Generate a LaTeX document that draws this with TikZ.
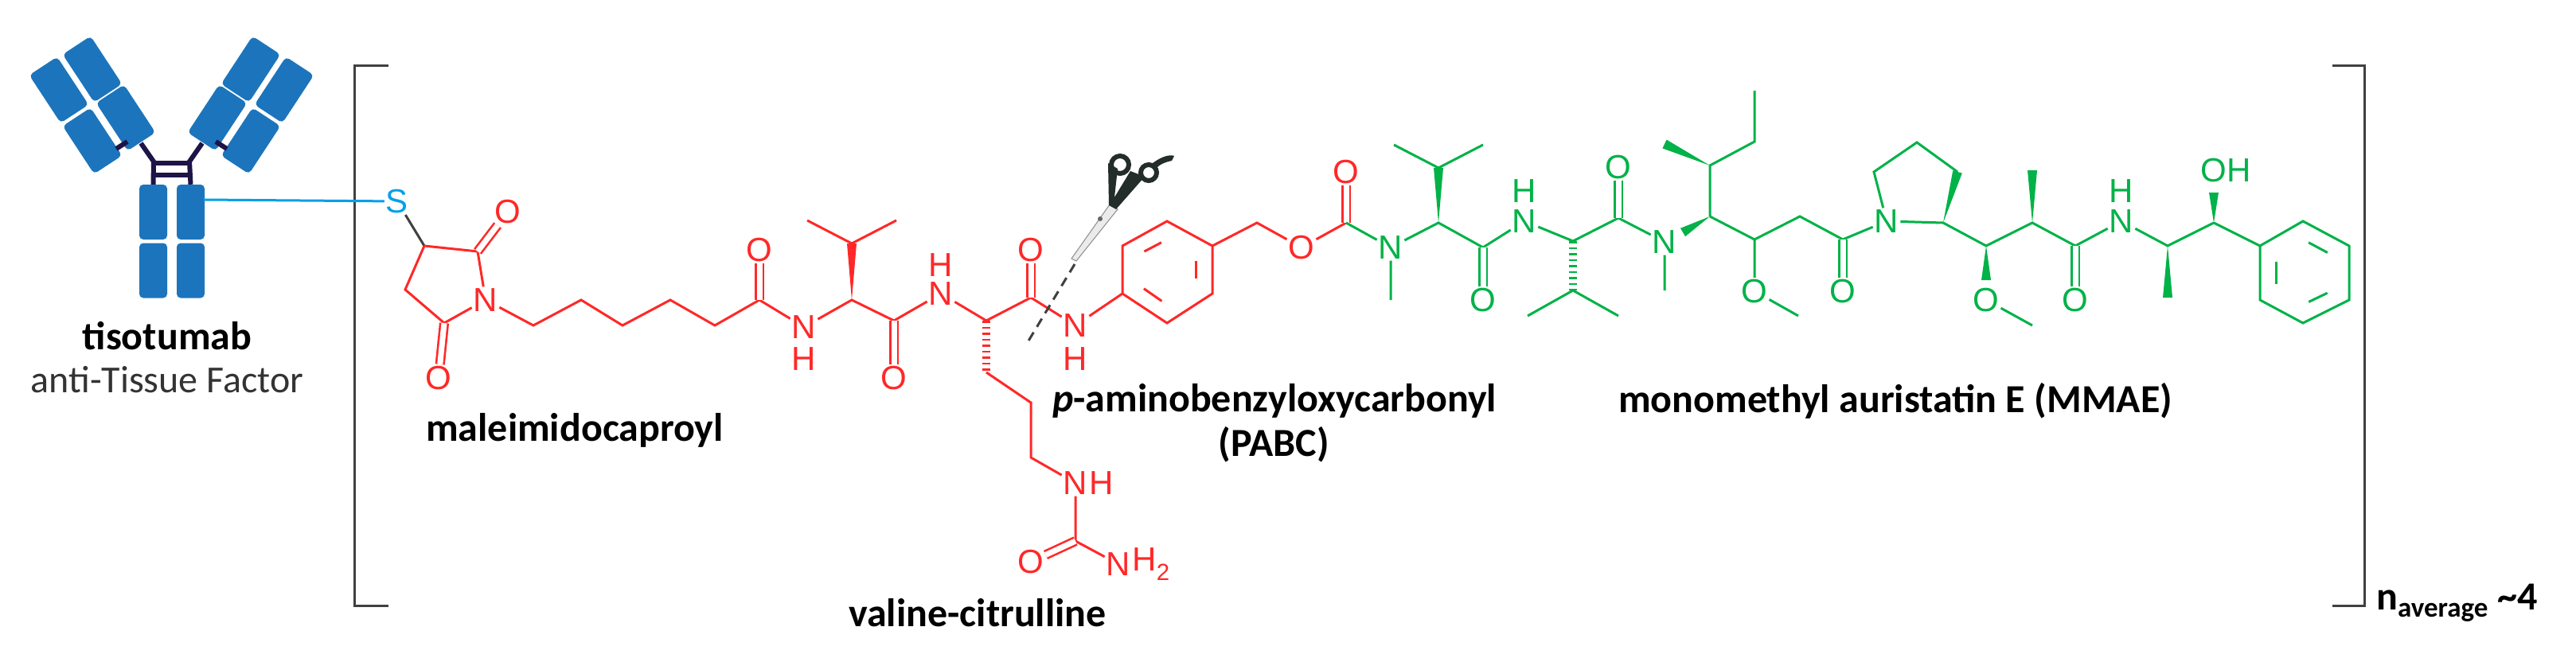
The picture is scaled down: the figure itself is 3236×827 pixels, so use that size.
\documentclass[tikz,border=0pt]{standalone}
\usepackage{fontspec}
\usetikzlibrary{calc}
\newfontfamily\chemf{Liberation Sans}
\newfontfamily\labf{Carlito}
\definecolor{cred}{RGB}{255,40,40}
\definecolor{cgreen}{RGB}{0,178,72}
\definecolor{abblue}{RGB}{28,117,188}
\definecolor{lblue}{RGB}{0,160,233}
\definecolor{navy}{RGB}{30,20,70}
\definecolor{scdark}{RGB}{35,45,42}
\newcommand\wdg[3]{\fill[#3] (#1) -- ($(#2)!6pt!90:(#1)$) -- ($(#2)!6pt!-90:(#1)$) -- cycle;}
\tikzset{
 bond/.style={line width=3pt},
 rb/.style={bond, draw=cred}, gb/.style={bond, draw=cgreen},
 dbl/.style={double distance=7pt, line width=2.6pt},
 hsh/.style={line width=10pt, dash pattern=on 2.5pt off 5pt},
 atomf/.style={font=\chemf\fontsize{42}{48}\selectfont, inner sep=2pt},
 ra/.style={atomf, text=cred}, ga/.style={atomf, text=cgreen},
 blk/.style={fill=abblue, rounded corners=5pt, minimum width=72pt, minimum height=42pt, inner sep=0pt},
 sblk/.style={fill=abblue, rounded corners=5pt, minimum width=35pt, minimum height=69pt, inner sep=0pt},
 lab/.style={font=\labf\bfseries\fontsize{50}{56}\selectfont, inner sep=0pt},
 hinge/.style={draw=navy, line width=6pt},
 brk/.style={draw=black!75, line width=3pt}
}
\begin{document}
\begin{tikzpicture}[x=1pt,y=-1pt]
\useasboundingbox (0,0) rectangle (3236,827);
% antibody
\node[blk,rotate=-56.7] (a1) at (74,113) {};
\node[blk,rotate=-56.7] (a2) at (116,177) {};
\node[blk,rotate=-56.7] (a3) at (116,87) {};
\node[blk,rotate=-56.7] (a4) at (158,148) {};
\node[blk,rotate=56.7] (a5) at (357,113) {};
\node[blk,rotate=56.7] (a6) at (315,177) {};
\node[blk,rotate=56.7] (a7) at (315,87) {};
\node[blk,rotate=56.7] (a8) at (273,148) {};
\node[sblk] (s1) at (192.5,266.5) {};
\node[sblk] (s2) at (192.5,340) {};
\node[sblk] (s3) at (239.5,266.5) {};
\node[sblk] (s4) at (239.5,340) {};
\coordinate (h1) at (177,180); \coordinate (h2) at (254,180);
\draw[hinge] (h1) -- (193,203) -- (s1.north);
\draw[hinge] (h2) -- (238,203) -- (s3.north);
\draw[hinge] (193,205) -- (238,205);
\draw[hinge] (193,220) -- (238,220);
\coordinate (l1) at (146,187); \coordinate (l2) at (160,178);
\coordinate (l3) at (285,187); \coordinate (l4) at (271,178);
\draw[hinge] (l1) -- (l2); \draw[hinge] (l3) -- (l4);
\node[lab] (t1) at (210,422) {tisotumab};
\node[font=\labf\fontsize{48}{54}\selectfont, text=black!80, inner sep=0pt] (t2) at (210,477) {anti-Tissue Factor};
% brackets
\draw[brk] (488,82) -- (445,82) -- (445,761) -- (488,761);
\draw[brk] (2930,82) -- (2970,82) -- (2970,761) -- (2930,761);
\node[lab, anchor=west] (nav) at (2985,758) {n\textsubscript{average} \textasciitilde4};
% S link
\node[atomf, text=lblue] (S) at (499,253) {S};
\coordinate (sx) at (256,251);
\draw[line width=3pt, lblue] (sx) -- (S);
% red part
\coordinate (c3) at (533,309); \coordinate (c2) at (600,316);
\node[ra] (n1) at (610,377) {N};
\coordinate (c5) at (558,406); \coordinate (c4) at (509,364);
\node[ra] (o1) at (638,266) {O}; \node[ra] (o2) at (551,475) {O};
\draw[bond, black!75] (S) -- (c3);
\draw[rb] (c3) -- (c2) -- (n1) -- (c5) -- (c4) -- (c3);
\draw[dbl, cred] (c2) -- (o1);
\draw[dbl, cred] (c5) -- (o2);
\coordinate (k1) at (670,409); \coordinate (k2) at (730,377); \coordinate (k3) at (782,409);
\coordinate (k4) at (842,377); \coordinate (k5) at (898,409); \coordinate (k6) at (954,377);
\node[ra] (o3) at (954,314) {O};
\node[ra] (n2) at (1010,411) {N}; \node[ra] (h2x) at (1010,451) {H};
\draw[rb] (n1) -- (k1) -- (k2) -- (k3) -- (k4) -- (k5) -- (k6) -- (n2);
\draw[dbl, cred] (k6) -- (o3);
\coordinate (va) at (1070,377); \coordinate (vb) at (1070,306);
\coordinate (vm1) at (1014,277); \coordinate (vm2) at (1126,277);
\coordinate (vc) at (1123,403); \node[ra] (o4) at (1123,475) {O};
\node[ra] (n3) at (1182,369) {N}; \node[ra] (h3) at (1182,333) {H};
\draw[rb] (n2) -- (va) -- (vc) -- (n3);
\wdg{va}{vb}{cred}
\draw[rb] (vm1) -- (vb) -- (vm2);
\draw[dbl, cred] (vc) -- (o4);
\coordinate (ca) at (1239,403); \coordinate (cb) at (1239,468);
\coordinate (cs1) at (1295,506); \coordinate (cs2) at (1295,575);
\node[ra] (n4) at (1351,607) {N}; \node[ra, anchor=west, inner sep=0pt] (h4) at (n4.east) {H};
\coordinate (uc) at (1351,680); \node[ra] (o5) at (1295,706) {O};
\node[ra] (n5) at (1405,709) {N}; \node[ra, anchor=west, inner sep=0pt] (h5) at (n5.east) {H\textsubscript{2}};
\draw[rb] (n3) -- (ca);
\draw[hsh, cred] (ca) -- (cb);
\draw[rb] (cb) -- (cs1) -- (cs2) -- (n4);
\draw[rb] (n4) -- (uc) -- (n5);
\draw[dbl, cred] (uc) -- (o5);
\coordinate (cc) at (1295,374); \node[ra] (o6) at (1295,314) {O};
\node[ra] (n6) at (1351,409) {N}; \node[ra] (h6) at (1351,451) {H};
\draw[rb] (ca) -- (cc) -- (n6);
\draw[dbl, cred] (cc) -- (o6);
\coordinate (r1) at (1410,369); \coordinate (r2) at (1410,309); \coordinate (r3) at (1466,278);
\coordinate (r4) at (1523,309); \coordinate (r5) at (1523,369); \coordinate (r6) at (1466,406);
\draw[rb] (n6) -- (r1);
\draw[rb, line join=miter] (r1) -- (r2) -- (r3) -- (r4) -- (r5) -- (r6) -- cycle;
\draw[rb, shorten <=8pt, shorten >=8pt] ($(r2)!0.18!(r5)$) -- ($(r3)!0.18!(r6)$);
\draw[rb, shorten <=8pt, shorten >=8pt] ($(r4)!0.18!(r1)$) -- ($(r5)!0.18!(r2)$);
\draw[rb, shorten <=8pt, shorten >=8pt] ($(r6)!0.18!(r3)$) -- ($(r1)!0.18!(r4)$);
\coordinate (bz) at (1579,280); \node[ra] (o7) at (1635,311) {O};
\coordinate (cbm) at (1691,280); \node[ra] (o8) at (1691,216) {O};
\draw[rb] (r4) -- (bz) -- (o7) -- (cbm);
\draw[dbl, cred] (cbm) -- (o8);
% green part
\node[ga] (n7) at (1747,311) {N}; \coordinate (nm7) at (1747,377);
\draw[gb] (cbm) -- (n7) -- (nm7);
\coordinate (ga1) at (1807,280); \coordinate (gb1) at (1807,211);
\coordinate (gm1) at (1751,182); \coordinate (gm2) at (1863,182);
\coordinate (gc1) at (1863,311); \node[ga] (o9) at (1863,377) {O};
\node[ga] (n8) at (1915,278) {N}; \node[ga] (h8) at (1915,240) {H};
\draw[gb] (n7) -- (ga1) -- (gc1) -- (n8);
\wdg{ga1}{gb1}{cgreen}
\draw[gb] (gm1) -- (gb1) -- (gm2);
\draw[dbl, cgreen] (gc1) -- (o9);
\coordinate (ga2) at (1976,303); \coordinate (gb2) at (1976,365);
\coordinate (gm3) at (1919,397); \coordinate (gm4) at (2033,397);
\coordinate (gc2) at (2033,274); \node[ga] (o10) at (2033,210) {O};
\node[ga] (n9) at (2091,304) {N}; \coordinate (nm9) at (2091,365);
\draw[gb] (n8) -- (ga2) -- (gc2) -- (n9) -- (nm9);
\draw[hsh, cgreen] (ga2) -- (gb2);
\draw[gb] (gm3) -- (gb2) -- (gm4);
\draw[dbl, cgreen] (gc2) -- (o10);
\coordinate (d1) at (2148,272); \coordinate (dw1) at (2114,292);
\coordinate (d2) at (2148,208); \coordinate (dw2) at (2091,181);
\coordinate (d3) at (2204,178); \coordinate (d4) at (2204,114);
\coordinate (d5) at (2204,301); \node[ga] (o11) at (2204,366) {O}; \coordinate (om11) at (2259,397);
\coordinate (d6) at (2261,272); \coordinate (gc3) at (2315,301); \node[ga] (o12) at (2315,366) {O};
\node[ga] (n10) at (2370,278) {N};
\wdg{d1}{dw1}{cgreen}
\wdg{d2}{dw2}{cgreen}
\draw[gb] (d1) -- (d2) -- (d3) -- (d4);
\draw[gb] (d1) -- (d5) -- (d6) -- (gc3) -- (n10);
\draw[gb] (d5) -- (o11) -- (om11);
\draw[dbl, cgreen] (gc3) -- (o12);
\coordinate (p1) at (2354,216); \coordinate (p2) at (2408,179); \coordinate (p3) at (2459,216); \coordinate (p4) at (2441,280);
\draw[gb] (n10) -- (p1) -- (p2) -- (p3);
\draw[gb] (n10) -- (p4);
\wdg{p4}{p3}{cgreen}
\coordinate (e1) at (2495,309); \coordinate (ew1) at (2495,352);
\node[ga] (o13) at (2495,377) {O}; \coordinate (om13) at (2553,409);
\coordinate (e2) at (2553,280); \coordinate (ew2) at (2553,214);
\coordinate (gc4) at (2607,309); \node[ga] (o14) at (2607,377) {O};
\node[ga] (n11) at (2665,278) {N}; \node[ga] (h11) at (2665,240) {H};
\draw[gb] (p4) -- (e1) -- (e2) -- (gc4) -- (n11);
\wdg{e1}{ew1}{cgreen}
\draw[gb] (o13) -- (om13);
\wdg{e2}{ew2}{cgreen}
\draw[dbl, cgreen] (gc4) -- (o14);
\coordinate (e3) at (2723,309); \coordinate (ew3) at (2723,374);
\coordinate (e4) at (2781,280); \coordinate (ew4) at (2781,242);
\node[ga] (oh) at (2796,214) {OH};
\draw[gb] (n11) -- (e3) -- (e4);
\wdg{e3}{ew3}{cgreen}
\wdg{e4}{ew4}{cgreen}
\coordinate (f1) at (2839,309); \coordinate (f2) at (2893,278); \coordinate (f3) at (2951,309);
\coordinate (f4) at (2951,377); \coordinate (f5) at (2893,406); \coordinate (f6) at (2839,377);
\draw[gb] (e4) -- (f1);
\draw[gb, line join=miter] (f1) -- (f2) -- (f3) -- (f4) -- (f5) -- (f6) -- cycle;
\draw[gb, shorten <=8pt, shorten >=8pt] ($(f2)!0.18!(f5)$) -- ($(f3)!0.18!(f6)$);
\draw[gb, shorten <=8pt, shorten >=8pt] ($(f4)!0.18!(f1)$) -- ($(f5)!0.18!(f2)$);
\draw[gb, shorten <=8pt, shorten >=8pt] ($(f6)!0.18!(f3)$) -- ($(f1)!0.18!(f4)$);
% scissors
\coordinate (stip) at (1348,327); \coordinate (cut) at (1291,430);
\draw[black!75, line width=3pt, dash pattern=on 12pt off 8pt] (1350,332) -- (cut);
\filldraw[fill=black!8, draw=black!45, line width=1pt] (1394,257) -- (1404,263) -- (1352,328) -- (1346,325) -- cycle;
\fill[black!60] (1382,275) circle (3);
\fill[scdark] (1392,205) -- (1393,258) -- (1402,263) -- (1438,222) -- (1420,215) -- (1400,248) -- (1404,212) -- cycle;
\draw[scdark, line width=6pt] (1407,207) circle (11);
\draw[scdark, line width=6pt] (1443,217) circle (10);
\fill[scdark] (1448,205) .. controls (1460,196) and (1470,194) .. (1475,196) -- (1472,202) .. controls (1462,204) and (1455,208) .. (1452,212) -- cycle;
% labels
\node[lab] (lm) at (722,541) {maleimidocaproyl};
\node[lab] (lv) at (1228,770) {valine-citrulline};
\node[lab] (lp) at (1601,504) {\textit{p}-aminobenzyloxycarbonyl};
\node[lab] (lp2) at (1600,559) {(PABC)};
\node[lab] (lmm) at (2381,504) {monomethyl auristatin E (MMAE)};
\end{tikzpicture}
\end{document}
